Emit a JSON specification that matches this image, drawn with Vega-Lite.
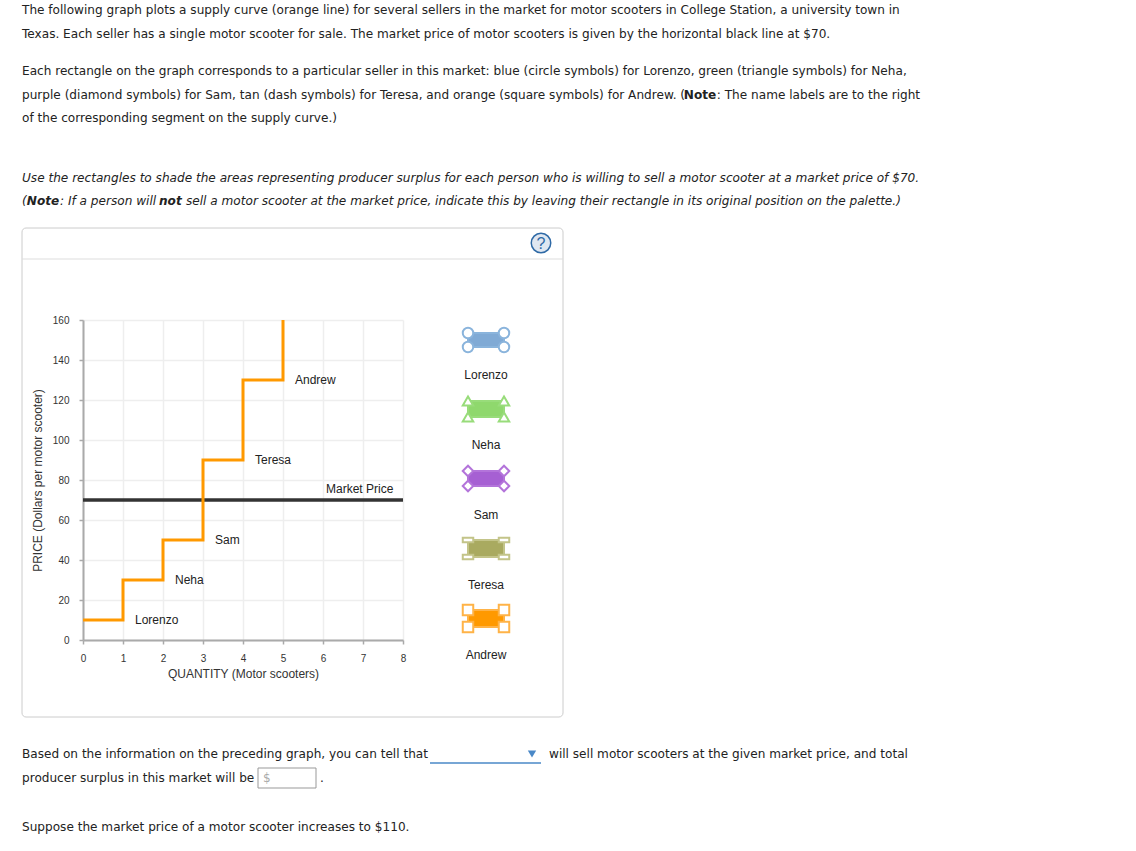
{
  "$schema": "https://vega.github.io/schema/vega-lite/v6.json",
  "width": 320,
  "height": 320,
  "autosize": {"type": "none"},
  "padding": {"left": 83, "top": 320, "right": 733, "bottom": 211},
  "background": "white",
  "config": {
    "view": {"stroke": null},
    "font": "Liberation Sans",
    "axis": {
      "grid": true,
      "gridColor": "#eeeeee",
      "gridWidth": 1.5,
      "domainColor": "#aaaaaa",
      "domainWidth": 2,
      "tickColor": "#aaaaaa",
      "tickWidth": 1.5,
      "tickSize": 4,
      "labelFont": "Liberation Sans",
      "labelFontSize": 10,
      "labelColor": "#333333",
      "labelFlush": false,
      "labelOverlap": false,
      "titleFont": "Liberation Sans",
      "titleFontSize": 12,
      "titleFontWeight": "normal",
      "titleColor": "#333333"
    }
  },
  "datasets": {
    "panel": [{"q": -1.525, "q2": 12.0, "p": 206, "p2": -38.5}],
    "sep": [{"q": -1.525, "q2": 12.0, "p": 190.5}],
    "supply": [
      {"o": 1, "q": 0, "p": 10}, {"o": 2, "q": 1, "p": 10},
      {"o": 3, "q": 1, "p": 30}, {"o": 4, "q": 2, "p": 30},
      {"o": 5, "q": 2, "p": 50}, {"o": 6, "q": 3, "p": 50},
      {"o": 7, "q": 3, "p": 90}, {"o": 8, "q": 4, "p": 90},
      {"o": 9, "q": 4, "p": 130}, {"o": 10, "q": 5, "p": 130},
      {"o": 11, "q": 5, "p": 160}
    ],
    "market": [{"q": 0, "q2": 8, "p": 70}],
    "labels": [
      {"t": "Lorenzo", "q": 1.3, "p": 10},
      {"t": "Neha", "q": 2.3, "p": 30},
      {"t": "Sam", "q": 3.3, "p": 50},
      {"t": "Teresa", "q": 4.3, "p": 90},
      {"t": "Andrew", "q": 5.3, "p": 130},
      {"t": "Market Price", "q": 6.075, "p": 75.3}
    ],
    "palette": [
      {"name": "Lorenzo", "q": 9.625, "q2": 10.525, "p": 146.5, "p2": 153.5},
      {"name": "Neha", "q": 9.625, "q2": 10.525, "p": 111.5, "p2": 119.5},
      {"name": "Sam", "q": 9.625, "q2": 10.525, "p": 77, "p2": 84.5},
      {"name": "Teresa", "q": 9.625, "q2": 10.525, "p": 41.5, "p2": 50},
      {"name": "Andrew", "q": 9.625, "q2": 10.525, "p": 6.5, "p2": 15}
    ],
    "palabels": [
      {"name": "Lorenzo", "q": 10.075, "p": 132.5},
      {"name": "Neha", "q": 10.075, "p": 97.5},
      {"name": "Sam", "q": 10.075, "p": 62.5},
      {"name": "Teresa", "q": 10.075, "p": 27.5},
      {"name": "Andrew", "q": 10.075, "p": -7.5}
    ],
    "corners": [
      {"name": "Lorenzo", "q": 9.625, "p": 146.5}, {"name": "Lorenzo", "q": 10.525, "p": 146.5},
      {"name": "Lorenzo", "q": 9.625, "p": 153.5}, {"name": "Lorenzo", "q": 10.525, "p": 153.5},
      {"name": "Neha", "q": 9.625, "p": 111.5}, {"name": "Neha", "q": 10.525, "p": 111.5},
      {"name": "Neha", "q": 9.625, "p": 119.5}, {"name": "Neha", "q": 10.525, "p": 119.5},
      {"name": "Sam", "q": 9.625, "p": 77}, {"name": "Sam", "q": 10.525, "p": 77},
      {"name": "Sam", "q": 9.625, "p": 84.5}, {"name": "Sam", "q": 10.525, "p": 84.5},
      {"name": "Teresa", "q": 9.625, "p": 41.5}, {"name": "Teresa", "q": 10.525, "p": 41.5},
      {"name": "Teresa", "q": 9.625, "p": 50}, {"name": "Teresa", "q": 10.525, "p": 50},
      {"name": "Andrew", "q": 9.625, "p": 6.5}, {"name": "Andrew", "q": 10.525, "p": 6.5},
      {"name": "Andrew", "q": 9.625, "p": 15}, {"name": "Andrew", "q": 10.525, "p": 15}
    ],
    "page": [
      {"k": "n", "q": -1.525, "p": 315, "t": "The following graph plots a supply curve (orange line) for several sellers in the market for motor scooters in College Station, a university town in"},
      {"k": "n", "q": -1.525, "p": 303, "t": "Texas. Each seller has a single motor scooter for sale. The market price of motor scooters is given by the horizontal black line at $70."},
      {"k": "n", "q": -1.525, "p": 284.5, "t": "Each rectangle on the graph corresponds to a particular seller in this market: blue (circle symbols) for Lorenzo, green (triangle symbols) for Neha,"},
      {"k": "n", "q": -1.525, "p": 272.5, "t": "purple (diamond symbols) for Sam, tan (dash symbols) for Teresa, and orange (square symbols) for Andrew. ("},
      {"k": "b", "q": 15.02, "p": 272.5, "t": "Note"},
      {"k": "n", "q": 15.845, "p": 272.5, "t": ": The name labels are to the right"},
      {"k": "n", "q": -1.525, "p": 261, "t": "of the corresponding segment on the supply curve.)"},
      {"k": "i", "q": -1.525, "p": 231, "t": "Use the rectangles to shade the areas representing producer surplus for each person who is willing to sell a motor scooter at a market price of $70."},
      {"k": "i", "q": -1.525, "p": 219.5, "t": "("},
      {"k": "bi", "q": -1.405, "p": 219.5, "t": "Note"},
      {"k": "i", "q": -0.575, "p": 219.5, "t": ": If a person will"},
      {"k": "bi", "q": 1.9, "p": 219.5, "t": "not"},
      {"k": "i", "q": 2.575, "p": 219.5, "t": "sell a motor scooter at the market price, indicate this by leaving their rectangle in its original position on the palette.)"},
      {"k": "n", "q": -1.525, "p": -57, "t": "Based on the information on the preceding graph, you can tell that"},
      {"k": "n", "q": 11.65, "p": -57, "t": "will sell motor scooters at the given market price, and total"},
      {"k": "n", "q": -1.525, "p": -69, "t": "producer surplus in this market will be"},
      {"k": "n", "q": 5.925, "p": -69, "t": "."},
      {"k": "n", "q": -1.525, "p": -93.5, "t": "Suppose the market price of a motor scooter increases to $110."}
    ],
    "help": [{"q": 11.45, "p": 198.5, "t": "?"}],
    "dropline": [{"q": 8.675, "q2": 11.45, "p": -61.5}],
    "droparrow": [{"q": 11.225, "p": -57}],
    "inputbox": [{"q": 4.375, "q2": 5.825, "p": -64, "p2": -74}],
    "dollar": [{"q": 4.5, "p": -69, "t": "$"}]
  },
  "encoding": {
    "x": {"field": "q", "type": "quantitative",
          "scale": {"domain": [0, 8], "nice": false, "zero": false},
          "axis": {"values": [0, 1, 2, 3, 4, 5, 6, 7, 8], "title": "QUANTITY (Motor scooters)", "labelPadding": 9, "titlePadding": 5}},
    "y": {"field": "p", "type": "quantitative",
          "scale": {"domain": [0, 160], "nice": false, "zero": false},
          "axis": {"values": [0, 20, 40, 60, 80, 100, 120, 140, 160], "title": "PRICE (Dollars per motor scooter)", "labelPadding": 10, "titlePadding": 8}}
  },
  "layer": [
    {
      "data": {"name": "panel"},
      "mark": {"type": "rect", "fill": null, "stroke": "#cccccc", "strokeWidth": 1, "cornerRadius": 4},
      "encoding": {"x2": {"field": "q2"}, "y2": {"field": "p2"}}
    },
    {
      "data": {"name": "sep"},
      "mark": {"type": "rule", "color": "#dddddd", "strokeWidth": 1},
      "encoding": {"x2": {"field": "q2"}}
    },
    {
      "data": {"name": "market"},
      "mark": {"type": "rule", "color": "#333333", "strokeWidth": 3.5},
      "encoding": {"x2": {"field": "q2"}}
    },
    {
      "data": {"name": "supply"},
      "mark": {"type": "line", "color": "#ff9900", "strokeWidth": 3, "strokeJoin": "miter", "strokeCap": "butt"},
      "encoding": {"order": {"field": "o", "type": "quantitative"}}
    },
    {
      "data": {"name": "labels"},
      "mark": {"type": "text", "align": "left", "baseline": "middle", "font": "Liberation Sans", "fontSize": 12, "color": "#222222"},
      "encoding": {"text": {"field": "t"}}
    },
    {
      "data": {"name": "palette"},
      "mark": {"type": "rect", "strokeWidth": 2},
      "encoding": {
        "x2": {"field": "q2"},
        "y2": {"field": "p2"},
        "fill": {"field": "name", "type": "nominal", "legend": null,
                 "scale": {"domain": ["Lorenzo", "Neha", "Sam", "Teresa", "Andrew"], "range": ["#80aad5", "#8fd86d", "#a660d3", "#a9aa60", "#ff9900"]}},
        "stroke": {"field": "name", "type": "nominal", "legend": null,
                   "scale": {"domain": ["Lorenzo", "Neha", "Sam", "Teresa", "Andrew"], "range": ["#8ab4dc", "#98dc7a", "#b374da", "#c3c489", "#ffb347"]}}
      }
    },
    {
      "data": {"name": "corners"},
      "mark": {"type": "point", "filled": false, "fill": "white", "fillOpacity": 1, "strokeWidth": 2, "size": 110, "opacity": 1},
      "encoding": {
        "stroke": {"field": "name", "type": "nominal", "legend": null},
        "shape": {"field": "name", "type": "nominal", "legend": null,
                  "scale": {"domain": ["Lorenzo", "Neha", "Sam", "Teresa", "Andrew"], "range": ["circle", "triangle-up", "diamond", "M-1,-0.45L1,-0.45L1,0.45L-1,0.45Z", "square"]}}
      }
    },
    {
      "data": {"name": "palabels"},
      "mark": {"type": "text", "align": "center", "baseline": "middle", "font": "Liberation Sans", "fontSize": 12, "color": "#222222"},
      "encoding": {"text": {"field": "name"}}
    },
    {
      "data": {"name": "page"},
      "transform": [{"filter": "datum.k == 'n'"}],
      "mark": {"type": "text", "align": "left", "baseline": "middle", "font": "DejaVu Sans", "fontSize": 12.1, "color": "#222222"},
      "encoding": {"text": {"field": "t"}}
    },
    {
      "data": {"name": "page"},
      "transform": [{"filter": "datum.k == 'b'"}],
      "mark": {"type": "text", "align": "left", "baseline": "middle", "font": "DejaVu Sans", "fontWeight": "bold", "fontSize": 12.1, "color": "#222222"},
      "encoding": {"text": {"field": "t"}}
    },
    {
      "data": {"name": "page"},
      "transform": [{"filter": "datum.k == 'i'"}],
      "mark": {"type": "text", "align": "left", "baseline": "middle", "font": "DejaVu Sans", "fontStyle": "italic", "fontSize": 12.1, "color": "#222222"},
      "encoding": {"text": {"field": "t"}}
    },
    {
      "data": {"name": "page"},
      "transform": [{"filter": "datum.k == 'bi'"}],
      "mark": {"type": "text", "align": "left", "baseline": "middle", "font": "DejaVu Sans", "fontStyle": "italic", "fontWeight": "bold", "fontSize": 12.1, "color": "#222222"},
      "encoding": {"text": {"field": "t"}}
    },
    {
      "data": {"name": "help"},
      "mark": {"type": "point", "shape": "circle", "size": 380, "filled": true, "fill": "#dfe7f1", "stroke": "#2f6aa6", "strokeWidth": 1.5, "opacity": 1},
      "encoding": {}
    },
    {
      "data": {"name": "help"},
      "mark": {"type": "text", "align": "center", "baseline": "middle", "font": "Liberation Sans", "fontSize": 16, "color": "#2f6aa6", "dy": 1},
      "encoding": {"text": {"field": "t"}}
    },
    {
      "data": {"name": "dropline"},
      "mark": {"type": "rule", "color": "#4a88c7", "strokeWidth": 1.5},
      "encoding": {"x2": {"field": "q2"}}
    },
    {
      "data": {"name": "droparrow"},
      "mark": {"type": "point", "shape": "triangle-down", "size": 70, "filled": true, "color": "#4a88c7", "opacity": 1},
      "encoding": {}
    },
    {
      "data": {"name": "inputbox"},
      "mark": {"type": "rect", "fill": "white", "stroke": "#999999", "strokeWidth": 1},
      "encoding": {"x2": {"field": "q2"}, "y2": {"field": "p2"}}
    },
    {
      "data": {"name": "dollar"},
      "mark": {"type": "text", "align": "left", "baseline": "middle", "font": "DejaVu Sans", "fontSize": 12, "color": "#aaaaaa"},
      "encoding": {"text": {"field": "t"}}
    }
  ]
}
